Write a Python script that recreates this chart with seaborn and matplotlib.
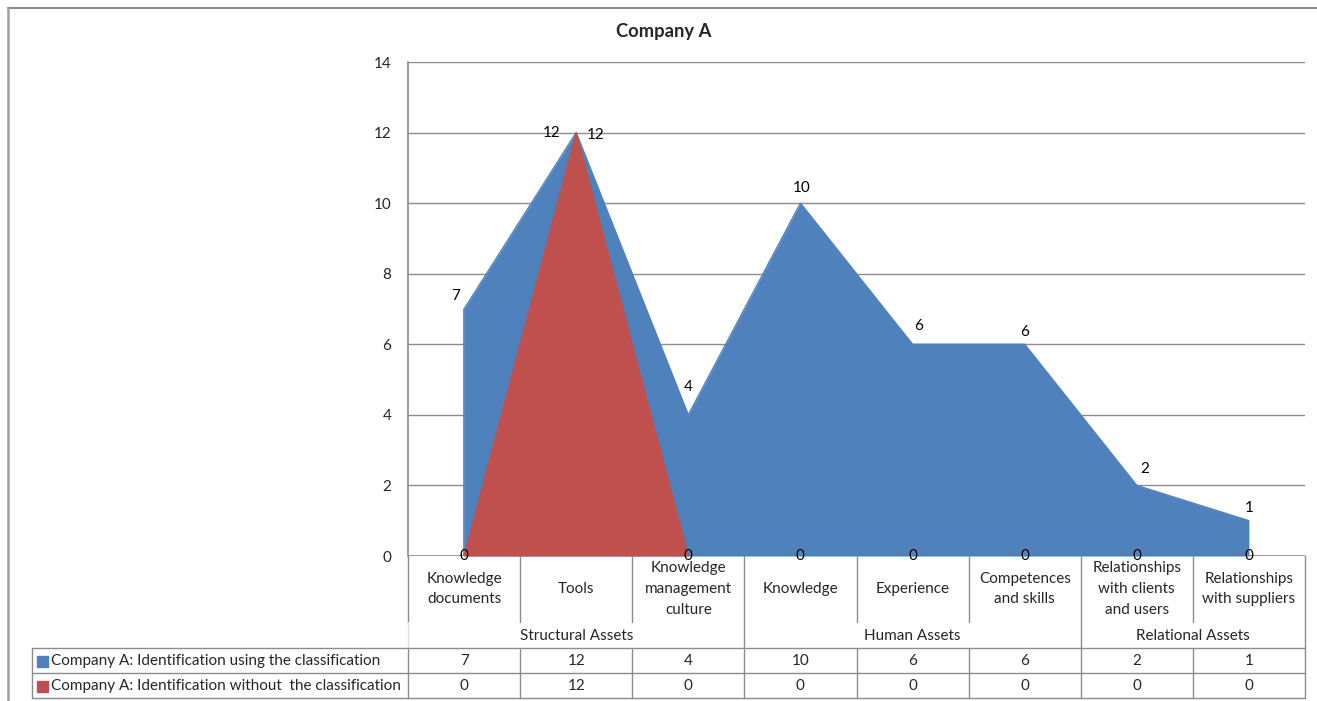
import numpy as np
import pandas as pd
import matplotlib
matplotlib.use("Agg")
import matplotlib.pyplot as plt
import matplotlib.transforms as mtransforms
from matplotlib.lines import Line2D
from matplotlib.patches import Rectangle
import seaborn as sns

# ---------------- data ----------------
categories = ["Knowledge\ndocuments", "Tools", "Knowledge\nmanagement\nculture",
              "Knowledge", "Experience", "Competences\nand skills",
              "Relationships\nwith clients\nand users", "Relationships\nwith suppliers"]
groups = ["Structural Assets", "Human Assets", "Relational Assets"]
group_sizes = [3, 3, 2]
series_names = ["Company A: Identification using the classification",
                "Company A: Identification without  the classification"]
with_class = [7, 12, 4, 10, 6, 6, 2, 1]
without_class = [0, 12, 0, 0, 0, 0, 0, 0]
y_ticks = [0, 2, 4, 6, 8, 10, 12, 14]
title = "Company A"

# ---------------- style ----------------
sns.set_theme(style="white")
plt.rcParams["font.family"] = ["Lato", "DejaVu Sans"]
BLUE = "#4F81BD"
RED = "#C0504D"
GRID = "#8C8C8C"
FS = 11

W, H = 1317, 701
fig = plt.figure(figsize=(W / 100, H / 100), dpi=100)
L, R, T, B = 408, 1305, 62, 556
ax = fig.add_axes([L / W, 1 - B / H, (R - L) / W, (B - T) / H])
axh = B - T
axw = R - L

def ay(ypx):
    return (B - ypx) / axh

def axx(xpx):
    return (xpx - L) / axw

df = pd.DataFrame({"pos": np.arange(len(categories)),
                   "with": with_class, "without": without_class})

ax.fill_between(df["pos"], 0, df["with"], color=BLUE, linewidth=0, zorder=2)
sns.lineplot(data=df, x="pos", y="with", ax=ax, color=BLUE, linewidth=1.0, zorder=2)
ax.fill_between(df["pos"], 0, df["without"], color=RED, linewidth=0, zorder=3)
sns.lineplot(data=df, x="pos", y="without", ax=ax, color=RED, linewidth=1.0, zorder=3)
ax.vlines(df["pos"].iloc[0], 0, df["with"].iloc[0], color=BLUE, linewidth=1.2, zorder=2)

ax.set_xlim(-0.5, len(categories) - 0.5)
ax.set_ylim(0, 14)
ax.set_yticks(y_ticks)
ax.set_yticklabels([str(v) for v in y_ticks], fontsize=FS)
ax.tick_params(axis="y", length=0, pad=12)
ax.set_xticks([])
ax.set_xlabel("")
ax.set_ylabel("")
ax.set_axisbelow(True)
ax.grid(axis="y", color=GRID, linewidth=1.0, zorder=0)
for s in ["top", "right", "bottom"]:
    ax.spines[s].set_visible(False)
ax.spines["left"].set_color(GRID)
ax.spines["left"].set_linewidth(1.2)
ax.axhline(0, color=GRID, linewidth=1.2, zorder=1)

# data labels (offsets in points)
blue_off = [(-6, 9), (-18, 0), (0, 20), (1, 11), (4, 13), (0, 9), (6, 12), (0, 9)]
for i, v in enumerate(with_class):
    ax.annotate(str(v), (i, v), xytext=blue_off[i], textcoords="offset points",
                ha="center", va="center", fontsize=FS, color="black", zorder=6)
for i, v in enumerate(without_class):
    off = (14, -2) if v > 0 else (0, 0)
    ax.annotate(str(v), (i, v), xytext=off, textcoords="offset points",
                ha="center", va="center", fontsize=FS, color="black", zorder=6)

# ---------------- data table ----------------
blend = mtransforms.blended_transform_factory(ax.transData, ax.transAxes)
lc = GRID
lw = 1.0
n = len(categories)
bounds = np.arange(n + 1) - 0.5
y_cat_b = ay(622)
y_grp_b = ay(648)
y_r1_b = ay(673)
y_r2_b = ay(698)

group_edges = np.concatenate([[0], np.cumsum(group_sizes)])
for k, b in enumerate(bounds):
    is_group = k in group_edges
    if (is_group and 0 < k < n) or k == n:
        ax.add_line(Line2D([b, b], [0, y_r2_b], transform=blend, color=lc, lw=lw, clip_on=False))
    elif k == 0:
        ax.add_line(Line2D([b, b], [0, y_cat_b], transform=blend, color=lc, lw=lw, clip_on=False))
        ax.add_line(Line2D([b, b], [y_cat_b, y_grp_b], transform=blend, color="#DDDDDD", lw=lw, clip_on=False))
        ax.add_line(Line2D([b, b], [y_grp_b, y_r2_b], transform=blend, color=lc, lw=lw, clip_on=False))
    else:
        ax.add_line(Line2D([b, b], [0, y_cat_b], transform=blend, color=lc, lw=lw, clip_on=False))
        ax.add_line(Line2D([b, b], [y_grp_b, y_r2_b], transform=blend, color=lc, lw=lw, clip_on=False))

x_tab_left = axx(32)
for yy in [y_grp_b, y_r1_b, y_r2_b]:
    ax.add_line(Line2D([x_tab_left, 1], [yy, yy], transform=ax.transAxes, color=lc, lw=lw, clip_on=False))
ax.add_line(Line2D([x_tab_left, x_tab_left], [y_grp_b, y_r2_b], transform=ax.transAxes,
                   color=lc, lw=lw, clip_on=False))

for i, c in enumerate(categories):
    ax.text(i, ay(589), c, transform=blend, ha="center", va="center", fontsize=FS,
            linespacing=1.6, clip_on=False)

for g, a, b in zip(groups, group_edges[:-1], group_edges[1:]):
    ax.text((a + b - 1) / 2, ay(636), g, transform=blend, ha="center", va="center",
            fontsize=FS, clip_on=False)

row_y = [ay(661), ay(686)]
row_vals = [with_class, without_class]
row_cols = [BLUE, RED]
for name, vals, col, yy in zip(series_names, row_vals, row_cols, row_y):
    ax.add_patch(Rectangle((axx(37), yy - 5.5 / axh), 11 / axw, 11 / axh,
                           transform=ax.transAxes, color=col, clip_on=False))
    ax.text(axx(51), yy, name, transform=ax.transAxes, ha="left", va="center",
            fontsize=FS, clip_on=False)
    for i, v in enumerate(vals):
        ax.text(i, yy, str(v), transform=blend, ha="center", va="center",
                fontsize=FS, clip_on=False)

# title and outer chart border
fig.text(664 / W, 1 - 32 / H, title, ha="center", va="center", fontsize=13.2, fontweight="bold")
fig.add_artist(Line2D([8 / W, 1], [1 - 8 / H, 1 - 8 / H], transform=fig.transFigure,
                      color="#8C8C8C", lw=1.5))
fig.add_artist(Line2D([8 / W, 8 / W], [0, 1 - 8 / H], transform=fig.transFigure,
                      color="#A0A0A0", lw=1.8))

fig.savefig("out.png", dpi=100)
